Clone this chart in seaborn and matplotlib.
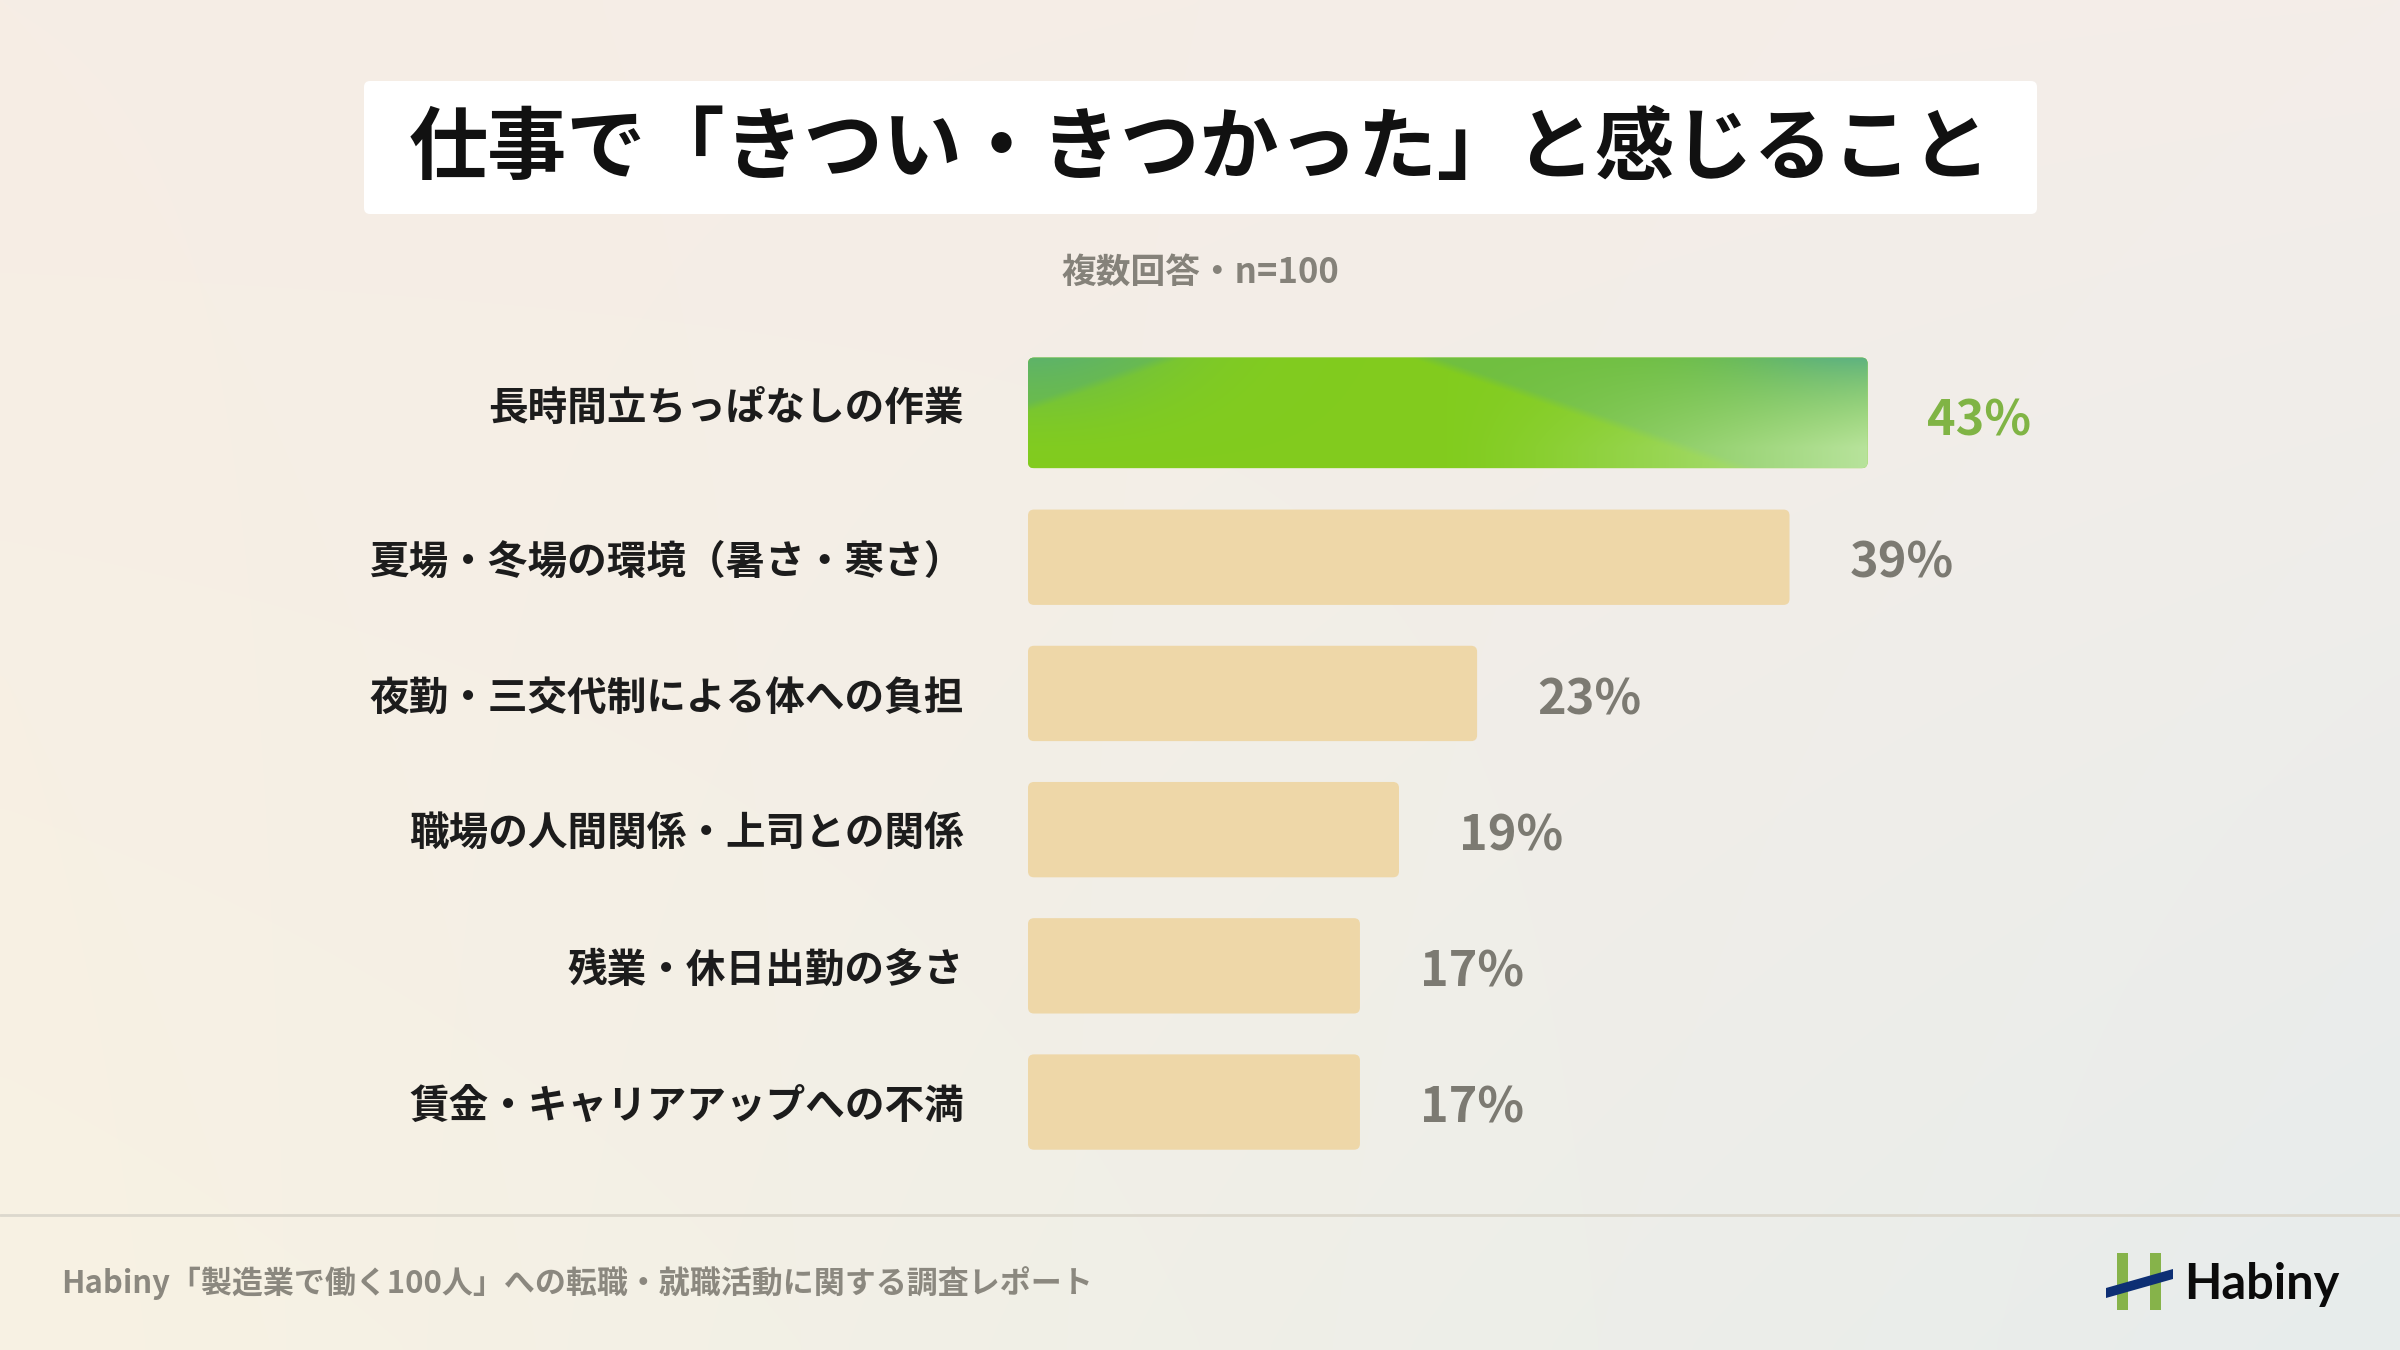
import numpy as np
import pandas as pd
import matplotlib
matplotlib.use("Agg")
import matplotlib.pyplot as plt
import matplotlib.transforms as mtrans
from matplotlib.patches import FancyBboxPatch, Polygon, Rectangle
import seaborn as sns

# --- data ---
labels = [
    "長時間立ちっぱなしの作業",
    "夏場・冬場の環境（暑さ・寒さ）",
    "夜勤・三交代制による体への負担",
    "職場の人間関係・上司との関係",
    "残業・休日出勤の多さ",
    "賃金・キャリアアップへの不満",
]
values = [43, 39, 23, 19, 17, 17]

title = "仕事で「きつい・きつかった」と感じること"
subtitle = "複数回答・n=100"
footer = "Habiny「製造業で働く100人」への転職・就職活動に関する調査レポート"
brand = "Habiny"

df = pd.DataFrame({"item": labels, "pct": values})

# --- style ---
sns.set_style("white")
plt.rcParams["font.family"] = ["Noto Sans CJK JP", "DejaVu Sans"]

BAR = "#eed7a8"
GREEN_TXT = "#80b445"
GRAY_TXT = "#7c7a72"
DARK = "#1c1c1c"

W, H = 2400, 1350
fig = plt.figure(figsize=(24, 13.5), dpi=100)

# background gradient (pixel coords axes)
bg = fig.add_axes([0, 0, 1, 1], zorder=-10)
tl = np.array([246, 237, 229]) / 255
tr = np.array([244, 238, 233]) / 255
bl = np.array([248, 242, 227]) / 255
br = np.array([231, 236, 236]) / 255
gx = np.linspace(0, 1, 240)[None, :, None]
gy = np.linspace(0, 1, 135)[:, None, None]
grad = (tl * (1 - gx) * (1 - gy) + tr * gx * (1 - gy)
        + bl * (1 - gx) * gy + br * gx * gy)
bg.imshow(grad, extent=[0, W, H, 0], aspect="auto", interpolation="bicubic")
bg.set_xlim(0, W)
bg.set_ylim(H, 0)
bg.axis("off")

# title box
bg.add_patch(FancyBboxPatch((364, 81), 1673, 133,
                            boxstyle="round,pad=0,rounding_size=6",
                            fc="white", ec="none"))
bg.text(1200, 150, title, ha="center", va="center", fontsize=57,
        fontweight="bold", color="#111111")
bg.text(1200, 272, subtitle, ha="center", va="center", fontsize=25,
        fontweight="bold", color="#85827a")

# footer
bg.plot([0, W], [1215, 1215], color="#dcd8cd", lw=2)
bg.text(61, 1283, footer, ha="left", va="center", fontsize=22.3,
        fontweight="bold", color="#8b887f")

# logo
bg.add_patch(Rectangle((2117, 1253), 11, 57, fc="#86b34a", ec="none"))
bg.add_patch(Rectangle((2150, 1253), 11, 57, fc="#86b34a", ec="none"))
bg.add_patch(Polygon([(2106, 1288), (2173, 1269), (2173, 1279), (2106, 1298)],
                     closed=True, fc="#0d2f74", ec="none"))
bg.text(2184, 1299, brand, ha="left", va="baseline", fontsize=35,
        fontweight="bold", family=["Lato", "DejaVu Sans"], color="#0b0b0b")

# --- bar chart ---
ax = fig.add_axes([1028 / W, 1 - 1179 / H, 1113 / W, 842 / H])
ax.patch.set_alpha(0)
sns.barplot(data=df, x="pct", y="item", orient="h", color=BAR,
            width=0.7, ax=ax, saturation=1)

ax.set_xlim(0, 57)
ax.set_ylim(5.565, -0.617)

# rounded bars
xpx = 1113 / 57
ypx = 842 / 6.182
rad = 6 / xpx
asp = (6 / ypx) / rad
bars = list(ax.patches)
first_patch = None
for i, p in enumerate(bars):
    x0, y0, w, h = p.get_x(), p.get_y(), p.get_width(), p.get_height()
    p.set_visible(False)
    if i == 0:
        cy = y0 + h / 2 - 0.06
        h = h * 1.16
        y0 = cy - h / 2
    fb = FancyBboxPatch((x0, y0), w, h,
                        boxstyle=f"round,pad=0,rounding_size={rad}",
                        mutation_aspect=asp, fc=BAR if i else "#82cc1f",
                        ec="none", zorder=2)
    ax.add_patch(fb)
    if i == 0:
        first_patch = (fb, x0, y0, w, h)

# green gradient on the top bar
fb, x0, y0, w, h = first_patch
u = np.linspace(0, 1, 400)[None, :]
v = np.linspace(0, 1, 80)[:, None]
lime = np.array([0.51, 0.80, 0.12])
mid = np.array([0.44, 0.75, 0.25])
teal = np.array([0.32, 0.67, 0.52])
light = np.array([0.72, 0.89, 0.61])
vb = np.maximum(0.45 * (1 - u / 0.17), (u - 0.47) / 0.38)
inside = np.clip((v - vb) * 12 + 0.5, 0, 1)[..., None]
img = lime * inside + mid * (1 - inside)
wt = ((1 - v) ** 2 * (0.6 * np.exp(-(u / 0.16) ** 2)
                      + 0.9 * np.exp(-((1 - u) / 0.16) ** 2)))[..., None]
img = img * (1 - wt) + teal * wt
wl = (np.clip((u - 0.5) / 0.5, 0, 1) ** 1.3 * np.clip(v * 1.1 + 0.1, 0, 1))[..., None]
img = img * (1 - wl) + light * wl
im = ax.imshow(np.clip(img, 0, 1), extent=[x0, x0 + w, y0 + h, y0],
               aspect="auto", zorder=3, interpolation="bilinear")
im.set_clip_path(fb)
ax.set_xlim(0, 57)
ax.set_ylim(5.565, -0.617)

# value labels
texts = ax.bar_label(ax.containers[0], fmt="%d%%", padding=43,
                     fontsize=35, fontweight="bold", color=GRAY_TXT)
texts[0].set_color(GREEN_TXT)
for t in texts[1:]:
    ox, oy = t.xyann
    t.xyann = (ox, oy - 4.5)

ax.set_xlabel("")
ax.set_ylabel("")
ax.set_xticks([])
ax.tick_params(axis="y", length=0, pad=46)
for t in ax.get_yticklabels():
    t.set_fontsize(28.5)
    t.set_fontweight("bold")
    t.set_color(DARK)
# first label sits a little higher in the original
first = ax.get_yticklabels()[0]
first.set_transform(first.get_transform()
                    + mtrans.ScaledTranslation(0, 12 / 72, fig.dpi_scale_trans))
sns.despine(ax=ax, left=True, bottom=True)

fig.savefig("out.png", dpi=100)
